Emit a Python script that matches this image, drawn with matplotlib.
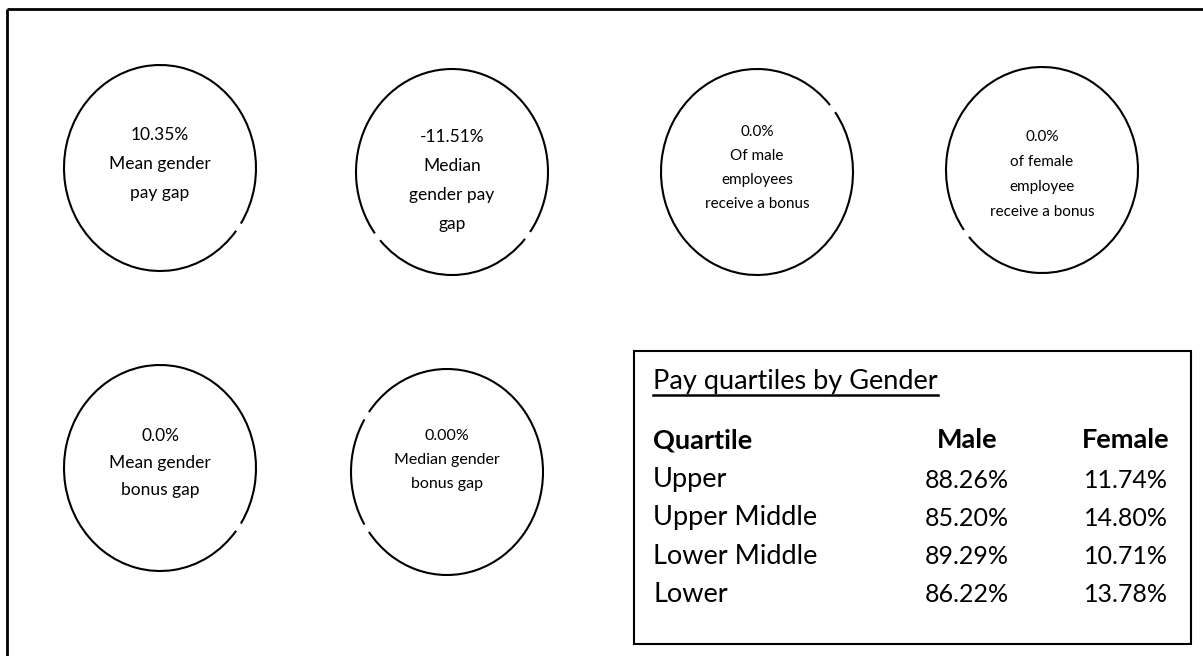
import matplotlib
matplotlib.use("Agg")
import matplotlib.pyplot as plt
from matplotlib.patches import Arc, Rectangle

plt.rcParams['font.family'] = ['Lato', 'DejaVu Sans']

# circle stats
circle_values = ["10.35%", "-11.51%", "0.0%", "0.0%", "0.0%", "0.00%"]
circle_labels = [
    ["Mean gender", "pay gap"],
    ["Median", "gender pay", "gap"],
    ["Of male", "employees", "receive a bonus"],
    ["of female", "employee", "receive a bonus"],
    ["Mean gender", "bonus gap"],
    ["Median gender", "bonus gap"],
]

# pay quartiles table
quartiles = ["Upper", "Upper Middle", "Lower Middle", "Lower"]
male_pct = [88.26, 85.20, 89.29, 86.22]
female_pct = [11.74, 14.80, 10.71, 13.78]

# layout (pixels)
centers = [(160, 168), (452, 172), (757, 172), (1042, 170), (160, 468), (447, 472)]
rx, ry = 96, 103
gaps = [[-37], [-139, -40], [40], [-140], [-37], [145, 215]]
font_sizes = [12.5, 12.5, 11, 11, 12.5, 11.5]
line_steps = [29, 29, 24, 25, 27, 24]
first_line = [135, 137, 132, 137, 436, 436]

fig = plt.figure(figsize=(12.03, 6.56), dpi=100)
ax = fig.add_axes([0, 0, 1, 1])
ax.set_xlim(0, 1203)
ax.set_ylim(656, 0)
ax.axis('off')

# outer frame (only top and left edges show)
ax.plot([7, 1203], [9, 9], color='black', lw=2, solid_capstyle='butt')
ax.plot([7, 7], [9, 656], color='black', lw=2, solid_capstyle='butt')

for i, (cx, cy) in enumerate(centers):
    # draw the ellipse as arcs so the small breaks remain
    g = sorted([a % 360 for a in gaps[i]])
    half = 2.5
    for j in range(len(g)):
        start = g[j] + half
        end = g[(j + 1) % len(g)] - half
        if end <= start:
            end += 360
        # y axis is inverted, so flip angles
        ax.add_patch(Arc((cx, cy), 2 * rx, 2 * ry, theta1=-end, theta2=-start,
                         color='black', lw=1.5))
    lines = [circle_values[i]] + circle_labels[i]
    for k, line in enumerate(lines):
        ax.text(cx, first_line[i] + k * line_steps[i], line, ha='center', va='center',
                fontsize=font_sizes[i], color='black')

# table box
fs = 19.5
fs_num = 18
ax.add_patch(Rectangle((634, 351), 557, 293, fill=False, edgecolor='black', lw=1.5))
title = ax.text(653, 382, "Pay quartiles by Gender", ha='left', va='center', fontsize=fs)
fig.canvas.draw()
bb = title.get_window_extent().transformed(ax.transData.inverted())
ax.plot([bb.x0, bb.x1], [395, 395], color='black', lw=1.8)

male_x, female_x = 967, 1126
row_y = [440, 480, 518, 557, 595]
ax.text(653, row_y[0], "Quartile", ha='left', va='center', fontsize=fs, fontweight='bold')
ax.text(male_x, row_y[0], "Male", ha='center', va='center', fontsize=fs, fontweight='bold')
ax.text(female_x, row_y[0], "Female", ha='center', va='center', fontsize=fs, fontweight='bold')
for q, m, f, y in zip(quartiles, male_pct, female_pct, row_y[1:]):
    ax.text(653, y, q, ha='left', va='center', fontsize=fs)
    ax.text(male_x, y, f"{m:.2f}%", ha='center', va='center', fontsize=fs_num)
    ax.text(female_x, y, f"{f:.2f}%", ha='center', va='center', fontsize=fs_num)

fig.savefig("out.png", dpi=100, facecolor='white')
